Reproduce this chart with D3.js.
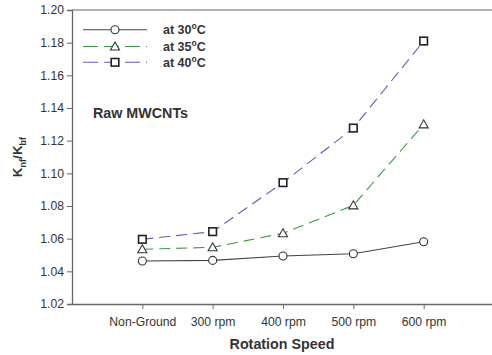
<!DOCTYPE html>
<html>
<head>
<meta charset="utf-8">
<script src="https://cdn.jsdelivr.net/npm/d3@7"></script>
<style>
  body { margin: 0; background: #fff; }
  text { font-family: "Liberation Sans", Arial, sans-serif; fill: #333; }
</style>
</head>
<body>
<svg id="chart" width="492" height="355"></svg>
<script>
// data
const categories = ["Non-Ground", "300 rpm", "400 rpm", "500 rpm", "600 rpm"];
const t30 = [1.0463, 1.0467, 1.0494, 1.0508, 1.0581];
const t35 = [1.0535, 1.0547, 1.0633, 1.0804, 1.1300];
const t40 = [1.0596, 1.0643, 1.0943, 1.1277, 1.1810];
const seriesNames = ["at 30", "at 35", "at 40"];
const yTicks = [1.02, 1.04, 1.06, 1.08, 1.10, 1.12, 1.14, 1.16, 1.18, 1.20];

const svg = d3.select("#chart");
const plotLeft = 72, plotRight = 494, plotTop = 10, plotBottom = 304;

const x = d3.scaleLinear().domain([0, 6]).range([plotLeft, plotRight]);
const y = d3.scaleLinear().domain([1.02, 1.20]).range([plotBottom, plotTop]);

// frame top line
svg.append("line")
  .attr("x1", plotLeft).attr("x2", 492).attr("y1", plotTop).attr("y2", plotTop)
  .attr("stroke", "#999").attr("stroke-width", 1.5);

// y axis
const yAxis = svg.append("g")
  .attr("transform", `translate(${plotLeft},0)`)
  .call(d3.axisLeft(y).tickValues(yTicks).tickFormat(d3.format(".2f")).tickSize(5).tickPadding(3));
yAxis.select(".domain").attr("stroke", "#666").attr("stroke-width", 1.3);
yAxis.selectAll(".tick line").attr("stroke", "#666");
yAxis.selectAll("text").attr("font-size", 12.2).style("font-family", "Liberation Sans, Arial, sans-serif").attr("fill", "#333");

// x axis
const xAxis = svg.append("g")
  .attr("transform", `translate(0,${plotBottom})`)
  .call(d3.axisBottom(x).tickValues([1, 2, 3, 4, 5])
    .tickFormat(d => categories[d - 1]).tickSize(5).tickPadding(8).tickSizeOuter(0));
xAxis.select(".domain").attr("stroke", "#666").attr("stroke-width", 1.3);
xAxis.selectAll(".tick line").attr("stroke", "#666");
xAxis.selectAll("text").attr("font-size", 12.2).style("font-family", "Liberation Sans, Arial, sans-serif").attr("fill", "#333");

// series
const series = [
  { name: seriesNames[0], values: t30, color: "#444", dash: null, marker: "circle" },
  { name: seriesNames[1], values: t35, color: "#3a9a48", dash: "11,6", marker: "triangle" },
  { name: seriesNames[2], values: t40, color: "#6558b8", dash: "11,6", marker: "square" }
];

const line = d3.line().x((d, i) => x(i + 1)).y(d => y(d));

function drawMarker(g, type, cx, cy) {
  if (type === "circle") {
    g.append("circle").attr("cx", cx).attr("cy", cy).attr("r", 4)
      .attr("fill", "#fff").attr("stroke", "#333").attr("stroke-width", 1.1);
  } else if (type === "triangle") {
    g.append("path")
      .attr("d", `M${cx},${cy - 4.5}L${cx + 4.5},${cy + 3.5}L${cx - 4.5},${cy + 3.5}Z`)
      .attr("fill", "#fff").attr("stroke", "#333").attr("stroke-width", 1.1);
  } else {
    g.append("rect").attr("x", cx - 3.8).attr("y", cy - 3.8).attr("width", 7.6).attr("height", 7.6)
      .attr("fill", "#fff").attr("stroke", "#222").attr("stroke-width", 1.6);
  }
}

series.forEach(s => {
  svg.append("path")
    .datum(s.values)
    .attr("d", line)
    .attr("fill", "none")
    .attr("stroke", s.color)
    .attr("stroke-width", 1.1)
    .attr("stroke-dasharray", s.dash);
  const g = svg.append("g");
  s.values.forEach((v, i) => drawMarker(g, s.marker, x(i + 1), y(v)));
});

// legend
const legendY = [29.7, 46.5, 62.3];
series.forEach((s, i) => {
  const ly = legendY[i];
  svg.append("line")
    .attr("x1", 83).attr("x2", 147).attr("y1", ly).attr("y2", ly)
    .attr("stroke", s.color).attr("stroke-width", 1.1)
    .attr("stroke-dasharray", s.dash ? "15,6" : null);
  drawMarker(svg.append("g"), s.marker, 115, ly);
  const t = svg.append("text")
    .attr("x", 163).attr("y", ly + 4.5)
    .attr("font-size", 12.5).attr("font-weight", "bold");
  t.append("tspan").text(s.name);
  t.append("tspan").text("o").attr("font-size", 8.5).attr("dy", -5);
  t.append("tspan").text("C").attr("dy", 5);
});

// annotation
svg.append("text")
  .attr("x", 93).attr("y", 118)
  .attr("font-size", 14.3).attr("font-weight", "bold")
  .text("Raw MWCNTs");

// y axis title
const yt = svg.append("text")
  .attr("transform", "translate(22,157) rotate(-90)")
  .attr("text-anchor", "middle")
  .attr("font-size", 13.5).attr("font-weight", "bold");
yt.append("tspan").text("K");
yt.append("tspan").text("nf").attr("font-size", 9).attr("dy", 4);
yt.append("tspan").text("/K").attr("dy", -4);
yt.append("tspan").text("bf").attr("font-size", 9).attr("dy", 4);

// x axis title
svg.append("text")
  .attr("x", 282).attr("y", 349)
  .attr("text-anchor", "middle")
  .attr("font-size", 14.3).attr("font-weight", "bold")
  .text("Rotation Speed");
</script>
</body>
</html>
